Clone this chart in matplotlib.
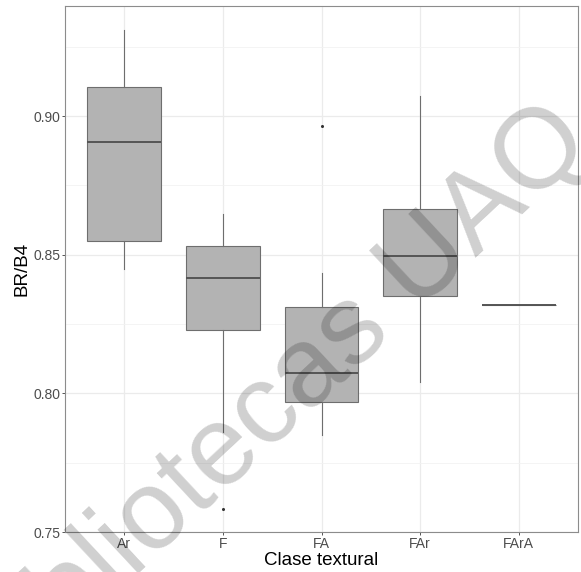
"""
Boxplot of BR/B4 by textural class (recreated from reference figure).
"""

import matplotlib
matplotlib.use("Agg")
import matplotlib.pyplot as plt
from matplotlib.ticker import MultipleLocator

plt.rcParams.update({
    'font.family': ['Liberation Sans', 'DejaVu Sans'],
    'axes.linewidth': 0.8,
})

# ── Data ──────────────────────────────────────────────────────
classes = ["Ar", "F", "FA", "FAr", "FArA"]
whisker_low = [0.845, 0.786, 0.785, 0.804, 0.832]
q1 = [0.855, 0.823, 0.797, 0.835, 0.832]
median = [0.8905, 0.8416, 0.8072, 0.8495, 0.832]
q3 = [0.9105, 0.8532, 0.8313, 0.8665, 0.832]
whisker_high = [0.931, 0.8647, 0.8433, 0.9073, 0.832]
outliers = [[], [0.7582], [0.8966], [], []]

y_ticks = [0.75, 0.80, 0.85, 0.90]


def main():
    fig = plt.figure(figsize=(5.81, 5.72), dpi=100)
    ax = fig.add_axes([65 / 581, 40 / 572, 513 / 581, 526 / 572])

    stats = []
    for i, name in enumerate(classes):
        stats.append({
            "label": name,
            "whislo": whisker_low[i], "q1": q1[i], "med": median[i],
            "q3": q3[i], "whishi": whisker_high[i], "fliers": outliers[i],
        })

    positions = list(range(1, len(classes) + 1))
    ax.bxp(stats, positions=positions, widths=0.75, patch_artist=True,
           showcaps=False,
           boxprops=dict(facecolor="#b3b3b3", edgecolor="#6e6e6e", linewidth=0.8),
           medianprops=dict(color="#555555", linewidth=1.4),
           whiskerprops=dict(color="#6e6e6e", linewidth=0.8),
           flierprops=dict(marker="o", markersize=1.2, markerfacecolor="#333333",
                           markeredgecolor="#333333"),
           zorder=3)

    # ── Axes styling (ggplot theme_bw look) ──
    ax.set_xlim(0.4, 5.6)
    ax.set_ylim(0.75, 0.9397)
    ax.set_xticks(positions)
    ax.set_xticklabels(classes)
    ax.set_yticks(y_ticks)
    ax.set_yticklabels([f"{v:.2f}" for v in y_ticks])
    ax.yaxis.set_minor_locator(MultipleLocator(0.025))
    ax.tick_params(axis="both", which="major", length=2.5, width=0.7,
                   color="#555555", labelsize=10, labelcolor="#4d4d4d", pad=1)
    ax.tick_params(axis="y", which="minor", length=0)

    ax.grid(True, which="major", color="#ebebeb", linewidth=0.9, zorder=0)
    ax.grid(True, which="minor", axis="y", color="#f2f2f2", linewidth=0.6, zorder=0)
    ax.set_axisbelow(True)
    for spine in ax.spines.values():
        spine.set_color("#8c8c8c")
        spine.set_linewidth(0.8)

    ax.set_xlabel("Clase textural", fontsize=13.5, labelpad=1)
    ax.set_ylabel("BR/B4", fontsize=13.5, labelpad=2)

    # watermark
    fig.text(276 / 581, 1 - 405 / 572, "Bibliotecas UAQ", fontsize=81,
             rotation=43, rotation_mode="anchor",
             ha="center", va="center", color="black", alpha=0.19, zorder=10)

    fig.savefig("out.png", dpi=100, facecolor="white")


if __name__ == "__main__":
    main()
